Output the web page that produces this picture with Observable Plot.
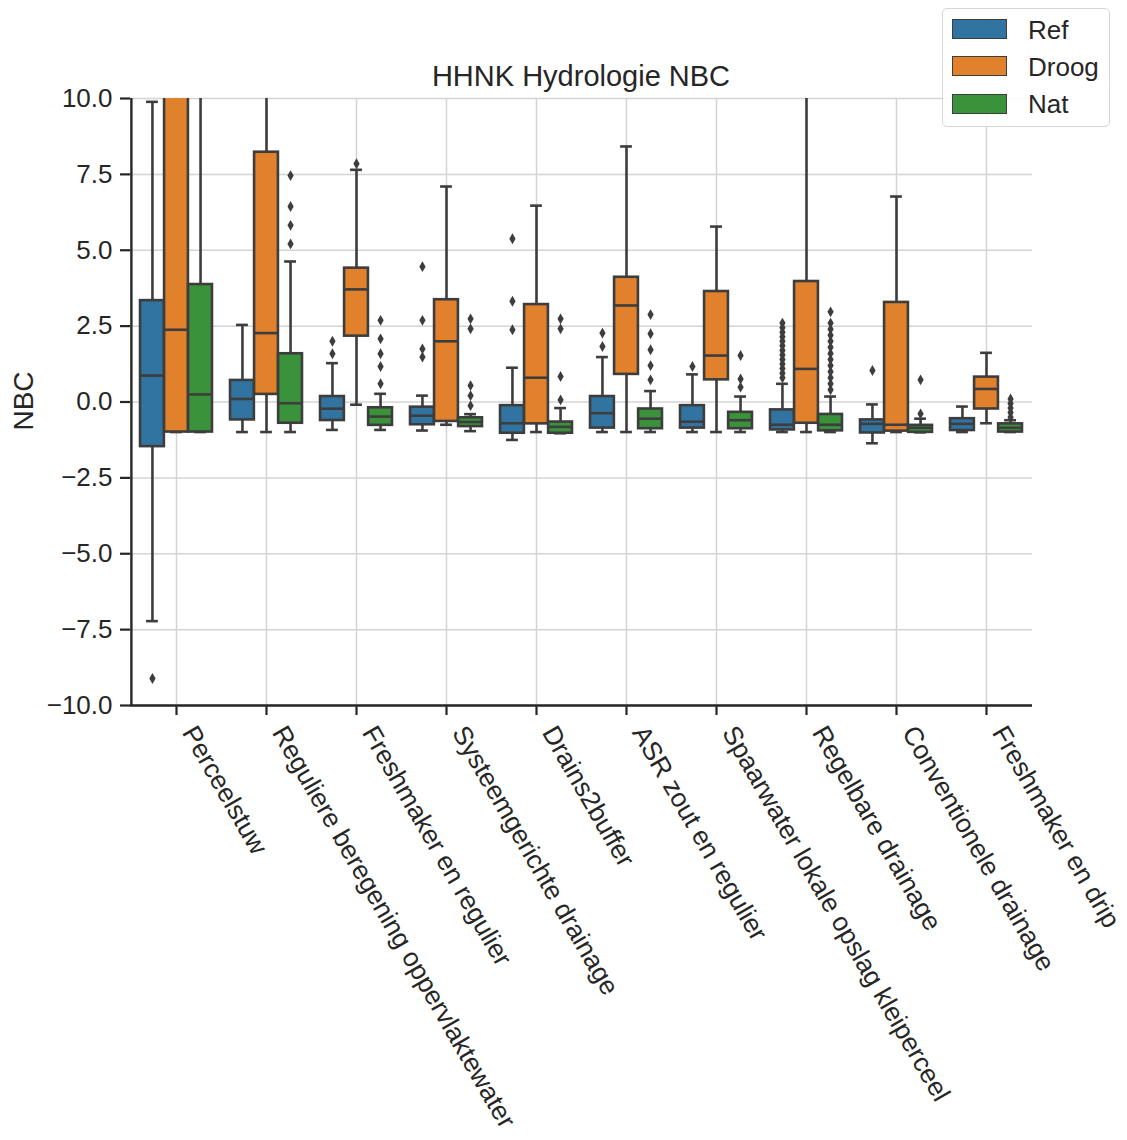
<!DOCTYPE html>
<html><head><meta charset="utf-8">
<script src="https://cdn.jsdelivr.net/npm/d3@7"></script>
<script src="https://cdn.jsdelivr.net/npm/@observablehq/plot@0.6"></script>
<style>
html,body{margin:0;padding:0;background:#fff;overflow:hidden;}
#wrap{position:relative;width:1127px;height:1140px;font-family:"Liberation Sans",Arial,sans-serif;color:#262626;}
#title{position:absolute;left:0;width:1162px;top:62px;text-align:center;font-size:29px;line-height:1;}
#ylab{position:absolute;left:24px;top:401px;font-size:28px;line-height:1;transform:translate(-50%,-50%) rotate(-90deg);white-space:nowrap;}
#legend{position:absolute;left:942px;top:8px;width:168px;height:119px;box-sizing:border-box;border:1.5px solid #d6d6d6;border-radius:5px;background:rgba(255,255,255,0.85);}
#legend .patch{position:absolute;left:9px;width:55px;height:20px;box-sizing:border-box;border:1.8px solid #3d3d3d;}
#legend .lab{position:absolute;left:85px;font-size:26px;line-height:1;}
svg g[aria-label="y-axis tick"] path, svg g[aria-label="x-axis tick"] path{stroke-width:2.2px;}
</style>
</head><body>
<div id="wrap">
  <div id="chart"></div>
  <div id="title">HHNK Hydrologie NBC</div>
  <div id="ylab">NBC</div>
  <div id="legend"></div>
</div>
<script>
const categories = ["Perceelstuw", "Reguliere beregening oppervlaktewater", "Freshmaker en regulier",
  "Systeemgerichte drainage", "Drains2buffer", "ASR zout en regulier",
  "Spaarwater lokale opslag kleiperceel", "Regelbare drainage", "Conventionele drainage", "Freshmaker en drip"];
const hues = ["Ref", "Droog", "Nat"];
const yTicks = [-10, -7.5, -5, -2.5, 0, 2.5, 5, 7.5, 10];

// [lower whisker, Q1, median, Q3, upper whisker] per category
const refStats = [
  [-7.22, -1.47, 0.87, 3.34, 9.89],
  [-0.99, -0.59, 0.10, 0.71, 2.54],
  [-0.92, -0.61, -0.22, 0.18, 1.28],
  [-0.94, -0.75, -0.45, -0.17, 0.21],
  [-1.25, -1.03, -0.70, -0.12, 1.13],
  [-0.99, -0.86, -0.37, 0.18, 1.48],
  [-0.99, -0.86, -0.65, -0.12, 0.91],
  [-0.99, -0.92, -0.75, -0.26, 0.60],
  [-1.36, -1.02, -0.72, -0.59, -0.08],
  [-0.99, -0.94, -0.72, -0.55, -0.15]
];
const droogStats = [
  [-0.99, -0.99, 2.38, 14.0, 22.0],
  [-0.99, 0.25, 2.27, 8.23, 12.5],
  [-0.09, 2.17, 3.71, 4.41, 7.65],
  [-0.75, -0.64, 2.00, 3.37, 7.10],
  [-0.99, -0.72, 0.80, 3.21, 6.47],
  [-0.99, 0.91, 3.18, 4.11, 8.42],
  [-0.99, 0.73, 1.53, 3.64, 5.78],
  [-0.99, -0.70, 1.09, 3.97, 11.5],
  [-0.99, -0.96, -0.75, 3.28, 6.77],
  [-0.70, -0.23, 0.43, 0.82, 1.62]
];
const natStats = [
  [-0.99, -0.99, 0.25, 3.87, 12.0],
  [-0.99, -0.70, -0.04, 1.59, 4.63],
  [-0.92, -0.77, -0.48, -0.19, 0.27],
  [-0.96, -0.81, -0.66, -0.52, -0.40],
  [-1.03, -1.03, -0.82, -0.66, -0.20],
  [-0.99, -0.88, -0.55, -0.23, 0.36],
  [-0.99, -0.88, -0.60, -0.34, 0.18],
  [-0.99, -0.95, -0.75, -0.41, 0.18],
  [-1.00, -1.00, -0.85, -0.77, -0.55],
  [-0.99, -0.99, -0.85, -0.72, -0.60]
];

// [category index, value]
const refOutliers = [
  [0, -9.11],
  [2, 2.00], [2, 1.59],
  [3, 4.46], [3, 2.69], [3, 1.75], [3, 1.48],
  [4, 5.38], [4, 3.32], [4, 2.38],
  [5, 2.27], [5, 1.83],
  [6, 1.17],
  [7, 2.60], [7, 2.45], [7, 2.30], [7, 2.15], [7, 2.00], [7, 1.85], [7, 1.70], [7, 1.55], [7, 1.40], [7, 1.25], [7, 1.10], [7, 0.95], [7, 0.80],
  [8, 1.04]
];
const droogOutliers = [
  [2, 7.85]
];
const natOutliers = [
  [1, 7.46], [1, 6.44], [1, 5.82], [1, 5.21],
  [2, 2.69], [2, 2.08], [2, 1.59], [2, 1.17], [2, 0.60],
  [3, 2.74], [3, 2.41], [3, 0.54], [3, 0.21], [3, -0.12],
  [4, 2.74], [4, 2.41], [4, 0.84], [4, 0.07],
  [5, 2.88], [5, 2.25], [5, 1.72], [5, 1.20], [5, 0.73],
  [6, 1.53], [6, 0.76], [6, 0.49],
  [7, 2.97], [7, 2.60], [7, 2.40], [7, 2.20], [7, 2.00], [7, 1.80], [7, 1.60], [7, 1.40], [7, 1.20], [7, 1.00], [7, 0.80], [7, 0.60], [7, 0.40],
  [8, 0.73], [8, -0.39],
  [9, 0.10], [9, -0.05], [9, -0.20], [9, -0.35], [9, -0.50]
];

const colors = ["#3274a1", "#e1812c", "#3a923a"];
const line = "#3d3d3d";
const gridColor = "#d4d4d4";

const W = 1127, H = 1140, mL = 130, mR = 95, mT = 98, mB = 435;
const step = (W - mL - mR) / categories.length;
const boxW = step * 0.8 / 3;
const capW = boxW / 2;
const boxInset = (step - boxW) / 2;
const capInset = (step - capW) / 2;
const offsets = [-boxW, 0, boxW];

const statsByHue = [refStats, droogStats, natStats];
const outliersByHue = [refOutliers, droogOutliers, natOutliers];

const marks = [
  Plot.ruleY(yTicks, {stroke: gridColor, strokeWidth: 1.5}),
  Plot.ruleX(categories, {stroke: gridColor, strokeWidth: 1.5})
];

statsByHue.forEach((stats, h) => {
  const data = stats.map((s, i) => ({cat: categories[i], lo: s[0], q1: s[1], med: s[2], q3: s[3], hi: s[4]}));
  const outs = outliersByHue[h].map(([i, v]) => ({cat: categories[i], v}));
  const dx = offsets[h];
  const common = {x: "cat", dx, stroke: line, strokeWidth: 2.6, clip: true};
  marks.push(
    Plot.ruleX(data, {...common, y1: "q3", y2: "hi"}),
    Plot.ruleX(data, {...common, y1: "lo", y2: "q1"}),
    Plot.tickY(data, {...common, y: "hi", insetLeft: capInset, insetRight: capInset}),
    Plot.tickY(data, {...common, y: "lo", insetLeft: capInset, insetRight: capInset}),
    Plot.barY(data, {...common, y1: "q1", y2: "q3", fill: colors[h], insetLeft: boxInset, insetRight: boxInset}),
    Plot.tickY(data, {...common, y: "med", insetLeft: boxInset, insetRight: boxInset}),
    Plot.dot(outs, {x: "cat", y: "v", dx, symbol: "diamond", r: 3.3, fill: line, stroke: "none", clip: true})
  );
});

marks.push(
  Plot.text(categories, {x: d => d, text: d => d, frameAnchor: "bottom", rotate: 60, textAnchor: "start",
    dx: 5, dy: 27, fontSize: 26.3, fill: "#262626"}),
  Plot.ruleX([categories[0]], {dx: -step / 2, stroke: "#262626", strokeWidth: 2.4}),
  Plot.ruleY([-10], {stroke: "#262626", strokeWidth: 2.4})
);

const chart = Plot.plot({
  width: W, height: H,
  marginLeft: mL, marginRight: mR, marginTop: mT, marginBottom: mB,
  style: {fontFamily: '"Liberation Sans", Arial, sans-serif', fontSize: "26px", color: "#262626", background: "white", overflow: "visible"},
  x: {type: "band", domain: categories, padding: 0, tickSize: 10, tickFormat: () => "", label: null},
  y: {domain: [-10, 10], ticks: yTicks, tickSize: 10, tickPadding: 8, label: null,
      tickFormat: d => (d < 0 ? "\u2212" : "") + Math.abs(d).toFixed(1)},
  marks
});
document.getElementById("chart").appendChild(chart);

const legend = document.getElementById("legend");
const rowTops = [10, 47, 85];
const labTops = [7.5, 45, 82];
hues.forEach((h, i) => {
  const p = document.createElement("div");
  p.className = "patch";
  p.style.top = rowTops[i] + "px";
  p.style.background = colors[i];
  legend.appendChild(p);
  const t = document.createElement("div");
  t.className = "lab";
  t.style.top = labTops[i] + "px";
  t.textContent = h;
  legend.appendChild(t);
});
</script>
</body></html>
